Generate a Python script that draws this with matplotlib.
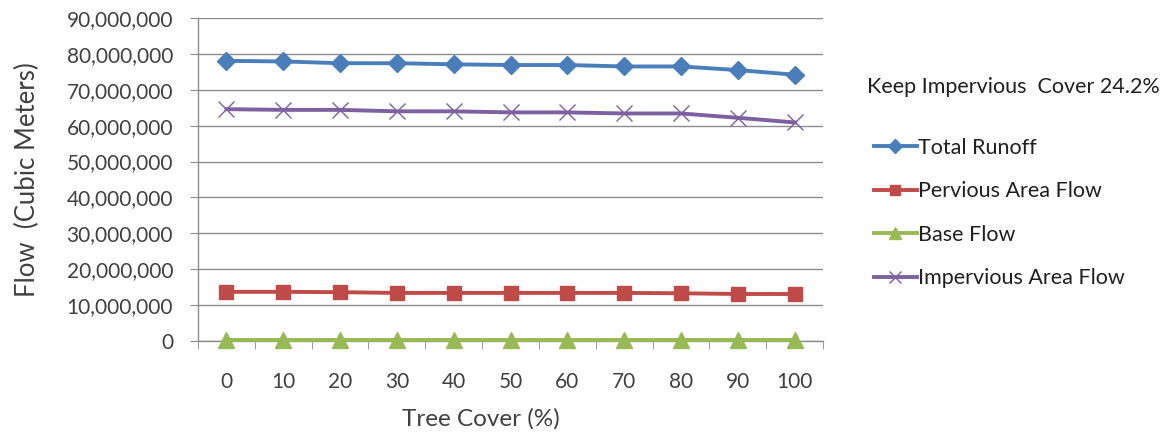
import numpy as np
import matplotlib.pyplot as plt
from matplotlib.ticker import FuncFormatter, FixedLocator

plt.rcParams['font.family'] = ['Lato', 'DejaVu Sans']

# Tree cover scenarios (%)
tree_cover = ['0', '10', '20', '30', '40', '50', '60', '70', '80', '90', '100']

# Flows in cubic meters
total_runoff = [78.06e6, 77.9e6, 77.4e6, 77.4e6, 77.1e6, 76.9e6, 76.9e6, 76.5e6, 76.5e6, 75.5e6, 74.2e6]
pervious_flow = [13.7e6, 13.7e6, 13.6e6, 13.4e6, 13.4e6, 13.4e6, 13.4e6, 13.4e6, 13.3e6, 13.1e6, 13.1e6]
base_flow = [0.2e6] * 11
impervious_flow = [64.6e6, 64.4e6, 64.4e6, 64.0e6, 64.0e6, 63.7e6, 63.7e6, 63.4e6, 63.4e6, 62.2e6, 60.9e6]

series = [
    ('Total Runoff', total_runoff, '#4a7ebb', 'D', 9.5),
    ('Pervious Area Flow', pervious_flow, '#be4b48', 's', 10.5),
    ('Base Flow', base_flow, '#98b954', '^', 11),
    ('Impervious Area Flow', impervious_flow, '#7d60a0', 'x', 12),
]

text_col = '#404040'
grid_col = '#8c8c8c'

fig = plt.figure(figsize=(11.65, 4.34), dpi=100)
ax = fig.add_axes([0.170, 0.2143, 0.5364, 0.7442])

x = np.arange(len(tree_cover))
handles = []
for name, vals, col, mk, ms in series:
    h, = ax.plot(x, vals, color=col, lw=2.8, marker=mk, markersize=ms,
                 markeredgewidth=1.0, label=name,
                 markeredgecolor=col, clip_on=False, zorder=3)
    handles.append(h)

ax.set_xlim(-0.5, len(tree_cover) - 0.5)
ax.set_ylim(0, 90e6)
ax.set_yticks(np.arange(0, 90e6 + 1, 10e6))
ax.yaxis.set_major_formatter(FuncFormatter(lambda v, p: f'{int(v):,}'))
ax.yaxis.grid(True, color=grid_col, lw=1.0)
ax.set_axisbelow(True)

# category labels centred, tick marks between categories
ax.set_xticks(x)
ax.set_xticklabels(tree_cover)
ax.tick_params(axis='x', which='major', length=0, pad=22, labelsize=15, labelcolor=text_col)
ax.xaxis.set_minor_locator(FixedLocator(np.arange(-0.5, len(tree_cover), 1.0)))
ax.tick_params(axis='x', which='minor', length=6, color=grid_col, direction='out')
ax.tick_params(axis='y', length=6, color=grid_col, pad=12, labelsize=15, labelcolor=text_col)

for s in ['top', 'right']:
    ax.spines[s].set_visible(False)
for s in ['left', 'bottom']:
    ax.spines[s].set_color(grid_col)
    ax.spines[s].set_linewidth(1.0)

ax.set_xlabel('Tree Cover (%)', fontsize=17.5, color=text_col)
ax.xaxis.set_label_coords(0.453, -0.207)
ax.set_ylabel('Flow  (Cubic Meters)', fontsize=18.5, color=text_col, labelpad=19)

fig.text(0.744, 0.80, 'Keep Impervious  Cover 24.2%', fontsize=15.5, color='#202020', va='center')
fig.legend(handles=handles, loc='upper left', bbox_to_anchor=(0.7335, 0.727),
           frameon=False, fontsize=15.5, handlelength=2.0, handletextpad=0.05,
           labelspacing=1.09, labelcolor='#202020', markerscale=0.75)

fig.savefig('out.png', dpi=100)
